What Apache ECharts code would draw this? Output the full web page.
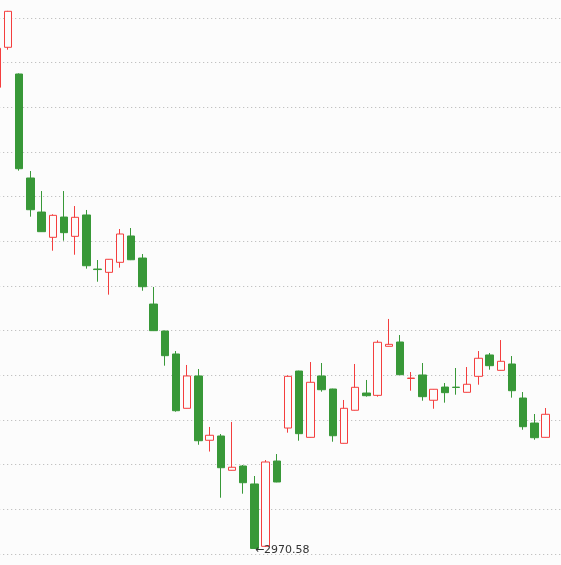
<!DOCTYPE html>
<html>
<head>
<meta charset="utf-8">
<script src="https://cdn.jsdelivr.net/npm/echarts@6/dist/echarts.min.js"></script>
<style>
html,body{margin:0;padding:0;background:#fcfcfc;}
#chart{width:561px;height:565px;}
</style>
</head>
<body>
<div id="chart"></div>
<script>
// Trading days (category axis); the last one is an empty slot
const categories = [];
for (let i = 1; i <= 51; i++) categories.push('D' + i);

// [open, close, low, high]
const opens  = [3487.4,3532.2,3502.3,3385.9,3347.8,3319.5,3342.2,3320.6,3344.5,3284.0,
                3280.3,3291.5,3321.0,3296.3,3244.8,3214.6,3188.9,3128.1,3164.3,3092.3,
                3097.1,3058.7,3063.5,3043.4,2973.6,3069.1,3106.0,3169.8,3095.6,3164.3,
                3149.7,3088.9,3125.9,3145.2,3142.6,3197.5,3202.3,3161.5,3165.4,3137.1,
                3151.9,3151.8,3146.0,3163.9,3187.8,3170.6,3177.7,3139.6,3111.6,3095.6];
const closes = [3531.1,3572.5,3396.3,3350.4,3325.8,3344.1,3324.7,3341.9,3287.7,3283.4,
                3294.9,3323.2,3294.4,3264.2,3215.0,3187.0,3125.4,3164.3,3091.8,3097.9,
                3061.6,3062.1,3044.8,2971.2,3068.0,3045.6,3163.9,3099.7,3157.2,3148.9,
                3097.4,3128.1,3151.6,3142.2,3202.0,3199.7,3165.7,3161.9,3141.1,3149.4,
                3145.6,3151.4,3155.0,3184.1,3175.8,3180.7,3147.8,3107.5,3095.2,3121.4];
const lows   = [3486.6,3529.5,3394.1,3342.6,3325.5,3304.5,3315.7,3300.0,3284.4,3269.8,
                3255.3,3285.5,3294.0,3259.7,3214.6,3175.8,3124.3,3128.0,3087.3,3079.7,
                3028.0,3058.5,3032.5,2970.58,2973.2,3045.3,3100.8,3091.8,3095.3,3146.7,
                3090.7,3088.6,3125.6,3141.1,3141.1,3197.3,3165.4,3147.8,3136.6,3127.6,
                3134.4,3143.3,3145.8,3154.5,3171.3,3170.4,3140.0,3104.1,3092.9,3095.4];
const highs  = [3533.7,3573.0,3503.0,3393.7,3371.3,3345.3,3371.3,3354.5,3350.1,3294.1,
                3295.2,3328.8,3329.9,3300.8,3263.9,3215.0,3192.2,3176.6,3172.1,3107.2,
                3099.3,3112.8,3064.6,3052.3,3070.2,3076.9,3165.0,3170.2,3179.9,3178.8,
                3150.0,3137.4,3177.7,3159.8,3204.2,3228.1,3210.1,3168.7,3178.8,3149.7,
                3156.4,3173.2,3174.3,3192.2,3190.0,3204.5,3186.6,3146.3,3121.7,3128.4];

const lowestValue = 2970.58;
const lowestIndex = 23;

const candles = opens.map((o, i) => [o, closes[i], lows[i], highs[i]]);

const chart = echarts.init(document.getElementById('chart'), null, {renderer: 'canvas'});
chart.setOption({
  animation: false,
  backgroundColor: '#fcfcfc',
  grid: {left: -8.8, top: -26.667, width: 571.2, height: 580.667, outerBoundsMode: 'none', containLabel: false},
  xAxis: {
    type: 'category', data: categories, boundaryGap: true,
    axisLine: {show: false}, axisTick: {show: false}, axisLabel: {show: false},
    splitLine: {show: false}
  },
  yAxis: [
    {
      type: 'value', min: 2965, max: 3615, show: false, scale: true
    },
    {
      type: 'value', min: 0, max: 13, interval: 1,
      axisLine: {show: false}, axisTick: {show: false}, axisLabel: {show: false},
      splitLine: {show: true, lineStyle: {color: '#b4b4b4', width: 1, type: [1, 3]}}
    }
  ],
  series: [{
    type: 'candlestick',
    yAxisIndex: 0,
    data: candles,
    barWidth: 8,
    itemStyle: {
      color: '#fcfcfc',
      color0: '#389838',
      borderColor: '#f43e3e',
      borderColor0: '#389838',
      borderWidth: 1
    },
    markPoint: {
      symbol: 'circle',
      symbolSize: 1,
      itemStyle: {color: 'rgba(0,0,0,0)'},
      label: {
        show: true, position: 'right', distance: 0, offset: [0, 1],
        color: '#333', fontSize: 11, fontFamily: 'DejaVu Sans, sans-serif',
        formatter: p => '\u2190' + Number(p.value).toFixed(2)
      },
      data: [{coord: [lowestIndex, lowestValue], value: lowestValue}]
    }
  }]
});
</script>
</body>
</html>
